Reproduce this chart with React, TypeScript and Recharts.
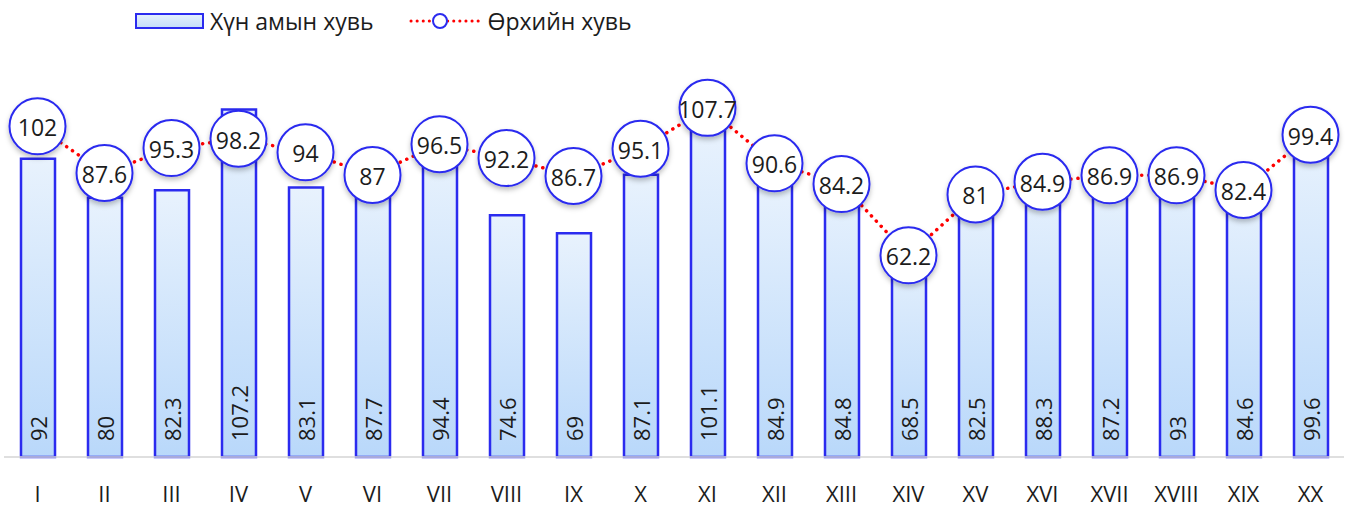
import { ComposedChart, Bar, Line, XAxis, YAxis, LabelList } from "recharts";

const categories = ["I", "II", "III", "IV", "V", "VI", "VII", "VIII", "IX", "X", "XI", "XII", "XIII", "XIV", "XV", "XVI", "XVII", "XVIII", "XIX", "XX"];
const populationPct = [92, 80, 82.3, 107.2, 83.1, 87.7, 94.4, 74.6, 69, 87.1, 101.1, 84.9, 84.8, 68.5, 82.5, 88.3, 87.2, 93, 84.6, 99.6];
const householdPct = [102, 87.6, 95.3, 98.2, 94, 87, 96.5, 92.2, 86.7, 95.1, 107.7, 90.6, 84.2, 62.2, 81, 84.9, 86.9, 86.9, 82.4, 99.4];

const data = categories.map((name, i) => ({
  name,
  population: populationPct[i],
  household: householdPct[i],
}));

const FONT = "'Open Sans', 'Noto Sans', sans-serif";
const BLUE = "#2b2bef";
const INK = "#1c1c1c";

function BubbleDot(props: any) {
  const { cx, cy, value, index } = props;
  if (cx == null || cy == null) return null;
  return (
    <g key={`dot-${index}`}>
      <circle cx={cx} cy={cy} r={28} fill="#fff" stroke={BLUE} strokeWidth={2} filter="url(#shadow)" />
      <text x={cx} y={cy + 1} textAnchor="middle" dominantBaseline="central" fontSize={23} fill={INK} fontFamily={FONT}>
        {value}
      </text>
    </g>
  );
}

function BarValue(props: any) {
  const { x, y, width, height, value } = props;
  const cx = x + width / 2;
  const by = y + height - 16;
  return (
    <text
      x={cx}
      y={by}
      transform={`rotate(-90 ${cx} ${by})`}
      textAnchor="start"
      dominantBaseline="central"
      fontSize={22}
      fill={INK}
      fontFamily={FONT}
    >
      {value}
    </text>
  );
}

function LegendBox() {
  return (
    <div style={{ position: "absolute", top: 5, left: 135, display: "flex", alignItems: "center", fontFamily: FONT, fontSize: 23, color: INK }}>
      <svg width={70} height={18} style={{ marginRight: 5 }}>
        <defs>
          <linearGradient id="legGrad" x1="0" y1="0" x2="0" y2="1">
            <stop offset="0%" stopColor="#e6f1fd" />
            <stop offset="100%" stopColor="#c4ddf8" />
          </linearGradient>
        </defs>
        <rect x={1} y={2} width={67} height={14} fill="url(#legGrad)" stroke={BLUE} strokeWidth={2} />
      </svg>
      <span style={{ marginRight: 36 }}>Хүн амын хувь</span>
      <svg width={72} height={20} style={{ marginRight: 6 }}>
        <line x1={2} y1={10} x2={70} y2={10} stroke="#ff0000" strokeWidth={3} strokeDasharray="0.1 6" strokeLinecap="round" />
        <circle cx={31} cy={10} r={7} fill="#fff" stroke={BLUE} strokeWidth={2} />
      </svg>
      <span>Өрхийн хувь</span>
    </div>
  );
}

export default function App() {
  return (
    <div style={{ position: "relative", width: 1351, height: 507, background: "#fff" }}>
      <style>{`body{margin:0}`}</style>
      <LegendBox />
      <ComposedChart width={1351} height={507} data={data} margin={{ top: 68, right: 7, left: 4, bottom: 0 }} barCategoryGap="49%">
        <defs>
          <linearGradient id="barGrad" x1="0" y1="0" x2="0" y2="1">
            <stop offset="0%" stopColor="#e8f2fd" />
            <stop offset="100%" stopColor="#b9d8fa" />
          </linearGradient>
          <filter id="shadow" x="-30%" y="-30%" width="160%" height="170%">
            <feDropShadow dx="0" dy="3" stdDeviation="2.5" floodColor="#000" floodOpacity="0.25" />
          </filter>
        </defs>
        <XAxis
          dataKey="name"
          height={50}
          axisLine={{ stroke: "#d4d4d4", strokeWidth: 1.5 }}
          tickLine={false}
          tickMargin={23}
          tick={{ fontSize: 22, fill: INK, fontFamily: FONT }}
          interval={0}
        />
        <YAxis hide domain={[0, 120]} />
        <Bar dataKey="population" barSize={34} fill="url(#barGrad)" stroke={BLUE} strokeWidth={2.5} isAnimationActive={false}>
          <LabelList dataKey="population" content={<BarValue />} />
        </Bar>
        <Line
          dataKey="household"
          stroke="#ff0000"
          strokeWidth={3.5}
          strokeDasharray="0.1 7"
          strokeLinecap="round"
          type="linear"
          dot={<BubbleDot />}
          activeDot={false}
          isAnimationActive={false}
        />
      </ComposedChart>
    </div>
  );
}
